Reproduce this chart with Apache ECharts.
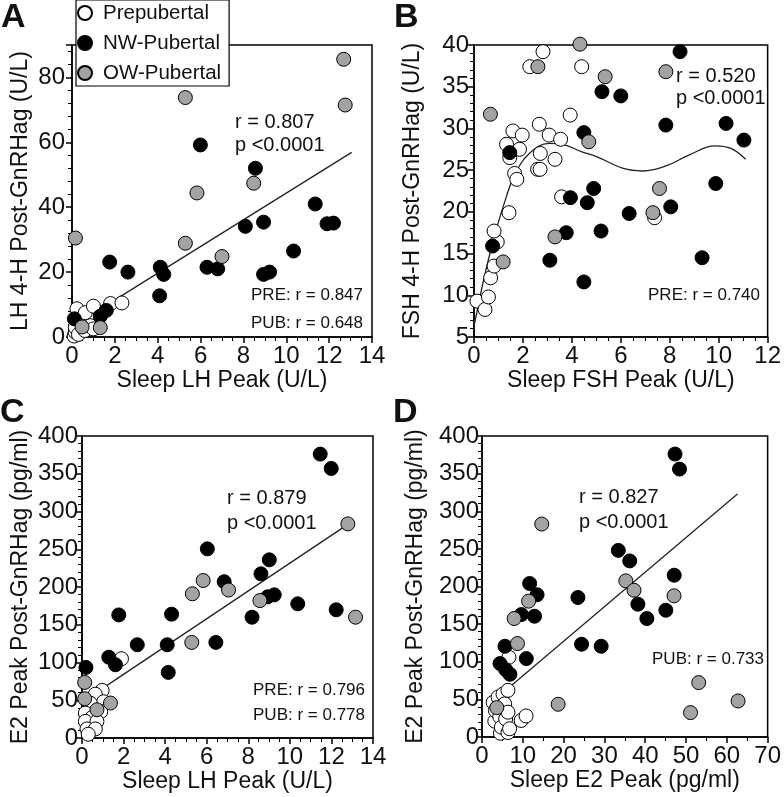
<!DOCTYPE html>
<html><head><meta charset="utf-8">
<script src="https://cdn.jsdelivr.net/npm/echarts@6/dist/echarts.min.js"></script>
<style>html,body{margin:0;padding:0;background:#fff}#c{width:784px;height:797px}</style>
</head><body><div id="c"></div>
<script>
const groups = ['Prepubertal', 'NW-Pubertal', 'OW-Pubertal'];

// Panel A: Sleep LH Peak vs LH 4-H Post-GnRHag
const aPre = [[0.1,0.3],[0.15,1.5],[0.15,3],[0.3,0.8],[0.6,2],[0.47,4.6],[0.78,5.7],[0.85,3.5],[1.0,2.5],[0.23,8.7],[0.62,7.5],[1.0,9.5],[1.8,10.3],[2.33,10.5]];
const aNW = [[0.11,5.6],[1.32,6.4],[1.6,8.2],[1.76,23.1],[2.61,20],[4.09,12.7],[4.12,21.5],[4.28,19.3],[5.99,59.2],[6.3,21.5],[6.8,21],[8.09,34.1],[8.56,52],[8.94,35.4],[8.94,19.3],[9.22,20],[10.34,26.5],[11.35,41],[11.9,34.9],[12.2,35.1]];
const aOW = [[0.16,30.5],[0.47,3.1],[1.32,2.9],[5.29,73.8],[5.29,28.9],[5.83,44.4],[7.0,24.8],[8.48,47.4],[12.68,85.6],[12.75,71.5]];
const aFit = [[0,3.2],[13.05,56.9]];

// Panel B: Sleep FSH Peak vs FSH 4-H Post-GnRHag
const bPre = [[0.12,9.3],[0.45,8.3],[0.59,9.8],[0.68,12.1],[0.82,13.5],[0.95,16.4],[0.82,17.7],[1.43,19.9],[1.66,24.6],[1.75,23.9],[1.46,26.5],[1.33,28.1],[1.86,27.5],[1.59,29.7],[1.97,29.2],[2.28,37.4],[2.82,39.2],[2.67,30.5],[3.07,29.2],[3.54,28.7],[2.71,27.0],[3.31,26.3],[2.6,25.1],[2.7,25.1],[3.58,21.8],[3.93,31.6],[4.4,37.4],[7.38,19.3]];
const bNW = [[0.76,15.9],[1.46,27.1],[3.1,14.2],[3.77,17.5],[3.94,21.7],[4.49,29.5],[4.49,11.6],[4.63,21.1],[4.89,22.8],[5.19,17.7],[5.23,34.4],[6.0,33.9],[6.34,19.8],[7.84,30.4],[8.04,20.6],[8.42,39.2],[9.32,14.5],[9.88,23.4],[10.3,30.6],[11.03,28.6]];
const bOW = [[0.67,31.7],[1.19,14.0],[2.61,37.4],[3.31,17.0],[4.33,40.1],[4.69,28.4],[5.36,36.2],[7.31,19.9],[7.58,22.8],[7.84,36.8]];
const bFit = [[0,6.4],[0.05,7.0],[0.39,11.8],[0.79,16.6],[1.19,20.6],[1.66,24.4],[2.26,27.0],[3.07,28.2],[3.6,28.1],[4.41,27.2],[5.03,26.6],[6.1,25.2],[6.9,24.9],[7.84,25.5],[8.78,26.8],[9.85,27.9],[10.5,27.6],[11.1,26.3]];

// Panel C: Sleep LH Peak vs E2 Peak Post-GnRHag
const cPre = [[1.9,105],[0.97,63],[0.64,58],[1.04,48],[0.4,46],[0.9,35],[0.16,33],[0.48,27],[0.16,22],[0.72,22],[0.24,12],[0.64,12],[0.3,5]];
const cNW = [[0.19,93.5],[1.29,107],[1.61,97],[1.77,163],[2.66,123.5],[4.10,123.5],[4.15,86.9],[4.31,164],[6.03,250.5],[6.44,126.6],[6.84,207],[8.18,160],[8.61,217.4],[8.93,187],[9.01,236],[9.25,189.6],[10.38,177.7],[11.46,376],[11.99,357],[12.23,169.8]];
const cOW = [[0.13,73.6],[0.13,52],[0.72,37.4],[1.37,46.3],[5.28,126.6],[5.31,191],[5.83,208.6],[7.05,196],[8.56,182],[12.79,283.6],[13.16,160]];
const cFit = [[0,47.5],[12.79,283]];

// Panel D: Sleep E2 Peak vs E2 Peak Post-GnRHag
const dPre = [[2.73,46],[3.14,21],[3.3,35],[3.94,53],[4.35,27],[4.5,5],[4.75,13],[5.0,40],[5.15,57],[5.55,44],[5.8,24],[6.36,62],[6.36,33],[6.36,6],[6.6,106],[6.76,11],[9.6,22],[10.8,28]];
const dNW = [[4.42,97.6],[5.63,120.6],[5.79,89.6],[6.84,83.4],[9.65,162.7],[10.86,104.2],[11.67,204],[12.87,160.5],[13.5,189],[23.5,185.4],[24.4,123.3],[29.2,120.6],[33.4,248],[36.2,234],[38.2,176.5],[40.4,157.4],[45.05,168.5],[47.1,215],[47.3,376],[48.4,356]];
const dOW = [[3.62,39],[7.88,157.4],[8.69,124.2],[11.42,180.5],[14.64,283],[18.66,43.5],[35.24,207.5],[37.25,195],[47.06,187.6],[51.1,32.4],[53.1,72.3],[62.75,47.9]];
const dFit = [[2.5,46.8],[62.6,322.8]];

const FONT = '"Liberation Sans", Arial, sans-serif';
const colors = ['#ffffff', '#000000', '#a3a3a3'];

const grids = [
  {left:72, top:45, width:300, height:292},
  {left:474, top:45, width:298, height:292},
  {left:82, top:436, width:291, height:302},
  {left:482, top:436, width:290, height:301}
].map(g => Object.assign(g, {show:true, borderColor:'#000', borderWidth:1.5, backgroundColor:'transparent', containLabel:false}));

function xAx(i, min, max, interval, name, minorSplit, nameGap) {
  return {gridIndex:i, type:'value', min, max, interval, name, nameLocation:'middle', nameGap,
    nameTextStyle:{fontFamily:FONT, fontSize:23, color:'#111'},
    axisLine:{show:true, onZero:false, lineStyle:{color:'#000', width:1.5}},
    axisTick:{show:true, inside:false, length:6, lineStyle:{color:'#000', width:1.5}},
    minorTick:{show:true, splitNumber:minorSplit, length:4, lineStyle:{color:'#000', width:1}},
    axisLabel:{fontFamily:FONT, fontSize:24, color:'#111', margin:7},
    splitLine:{show:false}, minorSplitLine:{show:false}};
}
function yAx(i, min, max, interval, name, minorSplit, nameGap, margin) {
  return {gridIndex:i, type:'value', min, max, interval, name, nameLocation:'middle', nameGap,
    nameTextStyle:{fontFamily:FONT, fontSize:23, color:'#111'},
    axisLine:{show:true, onZero:false, lineStyle:{color:'#000', width:1.5}},
    axisTick:{show:true, inside:false, length:6, lineStyle:{color:'#000', width:1.5}},
    minorTick:{show:true, splitNumber:minorSplit, length:4, lineStyle:{color:'#000', width:1}},
    axisLabel:{fontFamily:FONT, fontSize:24, color:'#111', margin, showMaxLabel: (max % interval === 0)},
    splitLine:{show:false}, minorSplitLine:{show:false}};
}

function sc(gi, data, idx) {
  return {type:'scatter', name:groups[gi], xAxisIndex:idx, yAxisIndex:idx, data, symbol:'circle', symbolSize:14, clip:false,
    itemStyle:{color:colors[gi], borderColor:'#000', borderWidth:1, opacity:1}, z:3};
}
function ln(data, idx, smooth) {
  return {type:'line', name:'fit' + idx, xAxisIndex:idx, yAxisIndex:idx, data, smooth, symbol:'none',
    lineStyle:{color:'#222', width:1.3}, z:2, silent:true};
}

const panels = [[aPre,aNW,aOW],[bPre,bNW,bOW],[cPre,cNW,cOW],[dPre,dNW,dOW]];
const series = [];
panels.forEach((p, idx) => p.forEach((d, gi) => series.push(sc(gi, d, idx))));
series.push(ln(aFit, 0, false), ln(bFit, 1, 0.4), ln(cFit, 2, false), ln(dFit, 3, false));

function txt(x, y, s, size, align, bold) {
  return {type:'text', z:20, style:{x, y, text:s, fill:'#111', textAlign:align || 'left', textVerticalAlign:'middle',
    font:(bold ? 'bold ' : '') + size + 'px ' + FONT}};
}

const option = {
  animation:false,
  backgroundColor:'#fff',
  grid: grids,
  xAxis: [
    xAx(0, 0, 14, 2, 'Sleep LH Peak (U/L)', 4, 30),
    xAx(1, 0, 12, 2, 'Sleep FSH Peak (U/L)', 4, 30),
    xAx(2, 0, 14, 2, 'Sleep LH Peak (U/L)', 4, 29),
    xAx(3, 0, 70, 10, 'Sleep E2 Peak (pg/ml)', 2, 29)
  ],
  yAxis: [
    yAx(0, 0, 90, 20, 'LH 4-H Post-GnRHag (U/L)', 5, 40, 7),
    yAx(1, 5, 40, 5, 'FSH 4-H Post-GnRHag (U/L)', 5, 50, 5),
    yAx(2, 0, 400, 50, 'E2 Peak Post-GnRHag (pg/ml)', 5, 50, 4),
    yAx(3, 0, 400, 50, 'E2 Peak Post-GnRHag (pg/ml)', 5, 55, 3)
  ],
  legend: {
    data: groups, orient:'vertical', left:76, top:0, padding:[2,8,2,1], itemGap:8,
    itemWidth:26, itemHeight:14, icon:'circle', borderColor:'#000', borderWidth:1.2,
    backgroundColor:'#fff', selectedMode:false, z:10,
    textStyle:{fontFamily:FONT, fontSize:20.5, color:'#111', lineHeight:22}
  },
  series,
  graphic: [
    txt(1, 18, 'A', 34, 'left', true),
    txt(394, 18, 'B', 34, 'left', true),
    txt(0, 413, 'C', 34, 'left', true),
    txt(393, 413, 'D', 34, 'left', true),
    txt(235, 122, 'r = 0.807', 20),
    txt(235, 145, 'p <0.0001', 20),
    txt(363, 295, 'PRE: r = 0.847', 17, 'right'),
    txt(363, 323, 'PUB: r = 0.648', 17, 'right'),
    txt(676, 76, 'r = 0.520', 20),
    txt(676, 98, 'p <0.0001', 20),
    txt(760, 295, 'PRE: r = 0.740', 17, 'right'),
    txt(227, 498, 'r = 0.879', 20),
    txt(227, 523, 'p <0.0001', 20),
    txt(365, 690, 'PRE: r = 0.796', 17, 'right'),
    txt(365, 715, 'PUB: r = 0.778', 17, 'right'),
    txt(579, 497, 'r = 0.827', 20),
    txt(579, 522, 'p <0.0001', 20),
    txt(764, 659, 'PUB: r = 0.733', 17, 'right')
  ]
};

const chart = echarts.init(document.getElementById('c'), null, {renderer:'canvas'});
chart.setOption(option);
</script>
</body></html>
